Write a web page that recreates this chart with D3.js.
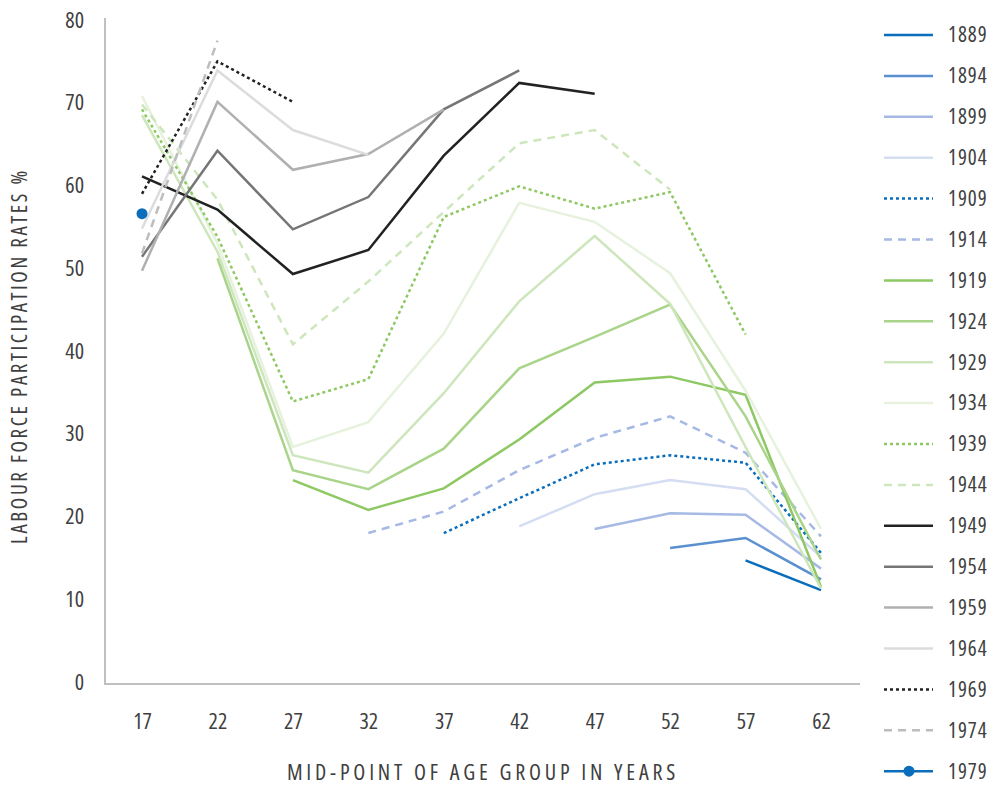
<!DOCTYPE html>
<html lang="en">
<head>
    <meta charset="utf-8">
    <title>Labour force participation by cohort</title>
    <style>
        body { margin: 0; background: #fff; }
        svg text {
            font-family: "Liberation Sans Narrow", "Open Sans", sans-serif;
            font-stretch: condensed;
            fill: #404040;
        }
    </style>
</head>
<body>
    <svg id="chart" width="997" height="788"></svg>
    <script src="https://cdn.jsdelivr.net/npm/d3@7"></script>
    <script>
        // mid-point of age group
        const ages = [17, 22, 27, 32, 37, 42, 47, 52, 57, 62];
        const yTicks = [0, 10, 20, 30, 40, 50, 60, 70, 80];

        // birth cohorts
        const cohorts = ["1889", "1894", "1899", "1904", "1909", "1914", "1919", "1924", "1929", "1934",
                         "1939", "1944", "1949", "1954", "1959", "1964", "1969", "1974", "1979"];

        // participation rates (%) per cohort, one value per age group, null = not observed
        const r1889 = [null, null, null, null, null, null, null, null, 14.7, 11.1];
        const r1894 = [null, null, null, null, null, null, null, 16.2, 17.4, 12.4];
        const r1899 = [null, null, null, null, null, null, 18.5, 20.4, 20.2, 13.7];
        const r1904 = [null, null, null, null, null, 18.8, 22.7, 24.4, 23.3, 15.1];
        const r1909 = [null, null, null, null, 18.0, 22.2, 26.3, 27.4, 26.5, 15.6];
        const r1914 = [null, null, null, 18.0, 20.6, 25.6, 29.5, 32.1, 27.7, 17.6];
        const r1919 = [null, null, 24.4, 20.8, 23.4, 29.3, 36.2, 36.9, 34.7, 11.5];
        const r1924 = [null, 51.2, 25.6, 23.3, 28.2, 37.9, 41.7, 45.6, 32.1, 14.8];
        const r1929 = [68.5, 52.0, 27.4, 25.3, 34.9, 46.0, 53.9, 45.7, 28.4, 11.3];
        const r1934 = [70.8, 53.0, 28.4, 31.4, 42.1, 57.9, 55.6, 49.4, 35.2, 18.5];
        const r1939 = [69.2, 53.8, 33.9, 36.6, 56.2, 59.9, 57.2, 59.2, 42.0, null];
        const r1944 = [69.8, 58.3, 40.8, 48.4, 56.8, 65.1, 66.7, 59.5, null, null];
        const r1949 = [61.1, 57.1, 49.3, 52.2, 63.6, 72.4, 71.1, null, null, null];
        const r1954 = [51.4, 64.2, 54.7, 58.6, 69.2, 73.9, null, null, null, null];
        const r1959 = [49.7, 70.1, 61.9, 63.8, 69.2, null, null, null, null, null];
        const r1964 = [54.8, 73.9, 66.7, 63.7, null, null, null, null, null, null];
        const r1969 = [59.0, 75.0, 70.1, null, null, null, null, null, null, null];
        const r1974 = [51.8, 77.5, null, null, null, null, null, null, null, null];
        const r1979 = [56.6, null, null, null, null, null, null, null, null, null];

        const rates = [r1889, r1894, r1899, r1904, r1909, r1914, r1919, r1924, r1929, r1934,
                       r1939, r1944, r1949, r1954, r1959, r1964, r1969, r1974, r1979];

        // line styling per cohort
        const colors = ["#0a6ebd", "#5a8fd0", "#a6b9e4", "#d4ddf2", "#0a6ebd", "#a6b9e4",
                        "#8dc863", "#a9d48a", "#cde6bb", "#e6f2dd", "#8dc863", "#cde6bb",
                        "#222222", "#767676", "#b0b0b0", "#dcdcdc", "#222222", "#bdbdbd", "#0a6ebd"];
        const dashes = ["", "", "", "", "3,3", "8,6", "", "", "", "", "3,3", "8,6",
                        "", "", "", "", "3,3", "8,6", ""];

        const svg = d3.select("#chart");

        const x = d3.scalePoint()
            .domain(ages)
            .range([142, 821]);

        const y = d3.scaleLinear()
            .domain([0, 80])
            .range([682, 20]);

        // axes: grey spines, no ticks
        svg.append("line")
            .attr("x1", 105).attr("x2", 105)
            .attr("y1", 18).attr("y2", y(0) + 2)
            .attr("stroke", "#c0c0c0").attr("stroke-width", 2);
        svg.append("line")
            .attr("x1", 104).attr("x2", 860)
            .attr("y1", y(0) + 2).attr("y2", y(0) + 2)
            .attr("stroke", "#c0c0c0").attr("stroke-width", 2);

        const yAxis = svg.append("g")
            .attr("transform", "translate(84,0)")
            .call(d3.axisLeft(y).tickValues(yTicks).tickSize(0).tickPadding(0));
        yAxis.select(".domain").remove();
        yAxis.selectAll("text")
            .attr("font-size", 22)
            .attr("font-family", null);

        const xAxis = svg.append("g")
            .attr("transform", "translate(0,713)")
            .call(d3.axisBottom(x).tickSize(0).tickPadding(0));
        xAxis.select(".domain").remove();
        xAxis.selectAll("text")
            .attr("font-size", 22)
            .attr("font-family", null);

        svg.append("text")
            .attr("x", 483)
            .attr("y", 780)
            .attr("text-anchor", "middle")
            .attr("font-size", 22)
            .attr("letter-spacing", 3.8)
            .text("MID-POINT OF AGE GROUP IN YEARS");

        svg.append("text")
            .attr("transform", "translate(27,356) rotate(-90)")
            .attr("text-anchor", "middle")
            .attr("font-size", 21)
            .attr("letter-spacing", 2.6)
            .text("LABOUR FORCE PARTICIPATION RATES %");

        // cohort lines
        const line = d3.line()
            .defined(d => d[1] != null)
            .x(d => x(d[0]))
            .y(d => y(d[1]));

        const plot = svg.append("g");

        rates.forEach((vals, i) => {
            const pts = ages.map((a, j) => [a, vals[j]]);
            plot.append("path")
                .datum(pts)
                .attr("fill", "none")
                .attr("stroke", colors[i])
                .attr("stroke-width", 2.5)
                .attr("stroke-dasharray", dashes[i] || null)
                .attr("stroke-linejoin", "miter")
                .attr("d", line);
        });

        // the last cohort only has a single observation: draw it as a marker
        plot.selectAll("circle")
            .data(ages.map((a, j) => [a, r1979[j]]).filter(d => d[1] != null))
            .join("circle")
                .attr("cx", d => x(d[0]))
                .attr("cy", d => y(d[1]))
                .attr("r", 5.5)
                .attr("fill", colors[18]);

        // legend
        const legend = svg.append("g");
        const rowY = i => 35 + i * 40.9;

        cohorts.forEach((c, i) => {
            const g = legend.append("g").attr("transform", `translate(0,${rowY(i)})`);
            g.append("line")
                .attr("x1", 884).attr("x2", 933)
                .attr("stroke", colors[i])
                .attr("stroke-width", 2.5)
                .attr("stroke-dasharray", dashes[i] || null);
            if (c === "1979") {
                g.append("circle").attr("cx", 909).attr("r", 5.5).attr("fill", colors[i]);
            }
            g.append("text")
                .attr("x", 948)
                .attr("dy", "0.35em")
                .attr("font-size", 21)
                .attr("letter-spacing", 1)
                .text(c);
        });
    </script>
</body>
</html>
